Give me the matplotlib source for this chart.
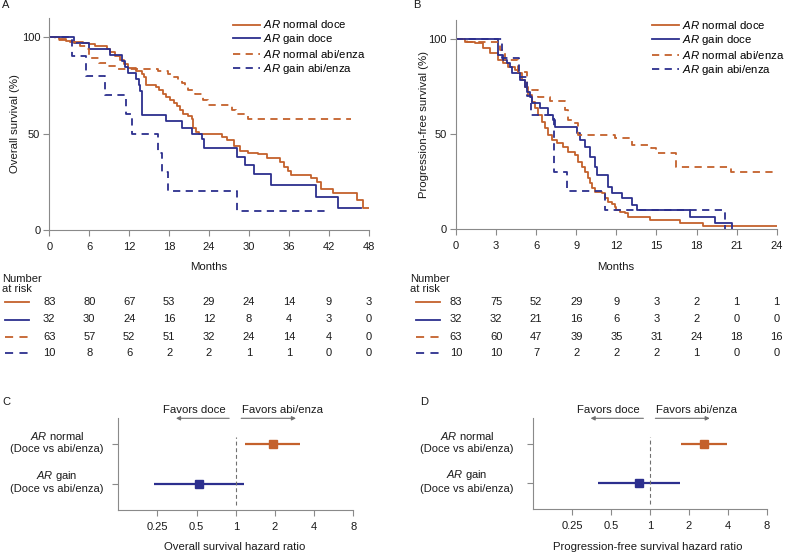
import matplotlib
matplotlib.use("Agg")
import matplotlib.pyplot as plt
import matplotlib.transforms as mtransforms
from matplotlib.lines import Line2D

plt.rcParams['font.family'] = ['Liberation Sans', 'DejaVu Sans']
plt.rcParams['mathtext.fontset'] = 'custom'
plt.rcParams['mathtext.it'] = 'Liberation Sans:italic'
plt.rcParams['mathtext.rm'] = 'Liberation Sans'
plt.rcParams['mathtext.bf'] = 'Liberation Sans:bold'

# ---------------- data ----------------
series_labels = [r"$\it{AR}$ normal doce", r"$\it{AR}$ gain doce",
                 r"$\it{AR}$ normal abi/enza", r"$\it{AR}$ gain abi/enza"]

# Panel A: overall survival (step points: months, %)
os_t_normal_doce = [0, 1.5, 2.5, 3.5, 5.0, 6.0, 6.9, 8.7, 9.1, 9.9, 10.6, 11.2, 11.9, 13.0, 13.9,
                    14.2, 14.6, 16.1, 16.5, 17.1, 17.6, 18.1, 18.7, 19.2, 19.6, 20.1, 20.9, 21.4,
                    21.6, 22.0, 22.5, 25.9, 26.7, 27.7, 28.7, 29.9, 31.4, 32.7, 34.7, 35.3, 35.8,
                    36.3, 39.4, 40.2, 40.9, 42.7, 46.2, 47.2, 48.0]
os_s_normal_doce = [100, 98.8, 98.0, 97.6, 97.0, 96.4, 95.2, 93.8, 92.0, 90.0, 88.2, 86.0, 83.9, 82.5,
                    81.0, 79.5, 75.0, 74.0, 72.5, 70.6, 69.0, 67.5, 66.0, 64.0, 62.0, 60.2, 59.0, 57.4,
                    52.8, 51.0, 49.5, 48.0, 46.4, 43.6, 41.0, 39.8, 39.3, 37.5, 35.0, 32.9, 30.8,
                    28.7, 26.8, 24.7, 21.5, 19.0, 15.4, 11.2, 11.2]
os_t_gain_doce = [0, 3.7, 6.0, 9.1, 11.0, 11.4, 11.9, 13.1, 13.5, 13.7, 14.0, 17.5, 20.0, 21.4,
                  23.0, 23.2, 28.2, 29.4, 30.7, 33.3, 40.1, 43.4, 46.9]
os_s_gain_doce = [100, 96.9, 93.8, 90.6, 87.5, 84.4, 81.3, 78.1, 75.0, 71.9, 59.4, 56.3, 53.1, 50.0,
                  46.9, 42.4, 38.0, 33.7, 29.0, 23.4, 17.3, 11.2, 11.2]
os_t_normal_abi = [0, 0.85, 2.6, 3.9, 4.6, 5.5, 6.0, 7.4, 8.8, 10.3, 16.3, 17.8, 18.6, 19.4, 19.9,
                   20.4, 20.9, 21.9, 23.1, 23.9, 27.5, 28.0, 29.9, 45.4]
os_s_normal_abi = [100, 98.4, 97.5, 96.8, 95.2, 93.6, 89.0, 86.4, 85.1, 83.3, 82.5, 80.8, 79.2, 77.5,
                   76.1, 74.4, 72.7, 70.6, 67.1, 64.9, 62.3, 60.2, 57.6, 57.6]
os_t_gain_abi = [0, 3.4, 5.5, 8.4, 11.5, 12.4, 16.3, 16.9, 17.9, 28.2, 41.4]
os_s_gain_abi = [100, 90, 80, 70, 60, 50, 40, 30, 20, 10, 10]

# Panel B: progression-free survival
pfs_t_normal_doce = [0, 0.67, 1.42, 2.05, 2.55, 3.17, 3.54, 3.92, 4.42, 4.67, 4.92, 5.16, 5.41, 5.66,
                     5.91, 6.16, 6.41, 6.66, 6.91, 7.16, 7.54, 8.04, 8.41, 8.91, 9.16, 9.41, 9.66,
                     9.91, 10.03, 10.15, 10.4, 10.9, 11.15, 11.4, 11.65, 11.9, 12.0, 12.28, 12.65,
                     12.9, 14.5, 16.8, 18.5, 24.0]
pfs_s_normal_doce = [100, 98.8, 97.9, 95.2, 92.6, 89.1, 87.3, 85.5, 83.8, 82.0, 78.5, 75.0, 70.6, 67.1,
                     63.5, 60.0, 56.5, 53.0, 49.5, 46.8, 45.1, 43.3, 40.7, 38.9, 35.4, 32.8, 30.1,
                     26.6, 23.9, 21.3, 19.5, 18.6, 16.0, 14.2, 13.3, 11.6, 9.8, 9.0, 8.1,
                     6.3, 4.6, 3.2, 1.2, 1.2]
pfs_t_gain_doce = [0, 3.17, 3.54, 3.79, 4.04, 4.17, 4.79, 5.16, 5.29, 5.54, 5.66, 6.29, 6.91, 7.29,
                   7.41, 9.03, 9.28, 9.66, 10.03, 10.4, 10.53, 11.4, 11.65, 12.4, 13.15, 13.52,
                   17.5, 19.4, 20.63]
pfs_s_gain_doce = [100, 91.7, 89.1, 87.3, 85.5, 82.0, 78.5, 75.0, 72.3, 69.7, 66.2, 63.5, 60.0, 57.4,
                   53.8, 50.5, 46.8, 43.3, 38.0, 32.7, 28.3, 22.2, 18.6, 16.0, 12.5, 9.9,
                   6.3, 2.8, 0]
pfs_t_normal_abi = [0, 0.8, 3.29, 3.67, 4.67, 5.29, 6.16, 7.04, 8.16, 8.41, 8.78, 9.16, 11.9, 13.15,
                    14.6, 15.0, 16.5, 20.6, 24.0]
pfs_s_normal_abi = [100, 98.7, 94.3, 89.1, 82.9, 73.2, 69.7, 67.6, 62.7, 57.4, 55.6, 49.4, 47.7, 44.2,
                    42.4, 39.8, 32.7, 30.1, 30.1]
pfs_t_gain_abi = [0, 3.45, 4.74, 5.29, 5.61, 7.35, 8.3, 11.15, 20.1]
pfs_s_gain_abi = [100, 90, 80, 70, 60, 30, 20, 10, 0]

# Number at risk
os_months = [0, 6, 12, 18, 24, 30, 36, 42, 48]
os_risk_normal_doce = [83, 80, 67, 53, 29, 24, 14, 9, 3]
os_risk_gain_doce = [32, 30, 24, 16, 12, 8, 4, 3, 0]
os_risk_normal_abi = [63, 57, 52, 51, 32, 24, 14, 4, 0]
os_risk_gain_abi = [10, 8, 6, 2, 2, 1, 1, 0, 0]
pfs_months = [0, 3, 6, 9, 12, 15, 18, 21, 24]
pfs_risk_normal_doce = [83, 75, 52, 29, 9, 3, 2, 1, 1]
pfs_risk_gain_doce = [32, 32, 21, 16, 6, 3, 2, 0, 0]
pfs_risk_normal_abi = [63, 60, 47, 39, 35, 31, 24, 18, 16]
pfs_risk_gain_abi = [10, 10, 7, 2, 2, 2, 1, 0, 0]

# Forest plots (hazard ratios)
forest_groups = [r"$\it{AR}$ normal" + "\n(Doce vs abi/enza)", r"$\it{AR}$ gain" + "\n(Doce vs abi/enza)"]
os_hr = [1.93, 0.524]
os_lo = [1.18, 0.235]
os_hi = [3.14, 1.166]
pfs_hr = [2.6, 0.826]
pfs_lo = [1.74, 0.396]
pfs_hi = [3.95, 1.71]
hr_ticks = [0.25, 0.5, 1, 2, 4, 8]
hr_ticklabels = ["0.25", "0.5", "1", "2", "4", "8"]

# ---------------- style ----------------
ORANGE = "#C4612C"
BLUE = "#2C2F8E"
GRAY = "#8a8a8a"
TXT = "#1a1a1a"
colors = [ORANGE, BLUE, ORANGE, BLUE]
dashed = [False, False, True, True]
FS = 8

W, H = 791, 552
fig = plt.figure(figsize=(W / 100, H / 100), dpi=100)


def fx(px):
    return px / W


def fy(py):
    return 1 - py / H


def style_axes(ax):
    for s in ("top", "right"):
        ax.spines[s].set_visible(False)
    for s in ("left", "bottom"):
        ax.spines[s].set_color(GRAY)
        ax.spines[s].set_linewidth(0.8)
    ax.tick_params(axis="both", color=GRAY, width=0.8, length=4, labelsize=FS, labelcolor=TXT)
    ax.tick_params(axis="x", pad=4.5)
    ax.tick_params(axis="y", pad=2.5)


def km_panel(ax, curves, xmax, xticks, legend_anchor):
    handles = []
    for (t, s), c, d, lab in zip(curves, colors, dashed, series_labels):
        ln, = ax.step(t, s, where="post", color=c, lw=1.3, label=lab)
        if d:
            ln.set_dashes((4, 3))
        handles.append(ln)
    ax.set_xlim(0, xmax)
    ax.set_ylim(0, 110)
    ax.set_xticks(xticks)
    ax.set_yticks([0, 50, 100])
    style_axes(ax)
    ax.legend(handles=handles, loc="upper left", bbox_to_anchor=legend_anchor,
              bbox_transform=fig.transFigure, frameon=False, fontsize=8.2,
              handlelength=2.4, handletextpad=0.25, labelspacing=0.17, borderpad=0,
              borderaxespad=0)
    return handles


# Panel A
axA = fig.add_axes([fx(49.3), fy(230), fx(368.7 - 49.3), (230 - 17.7) / H])
km_panel(axA,
         [(os_t_normal_doce, os_s_normal_doce), (os_t_gain_doce, os_s_gain_doce),
          (os_t_normal_abi, os_s_normal_abi), (os_t_gain_abi, os_s_gain_abi)],
         48, os_months, (fx(233), fy(18.5)))
# Panel B
axB = fig.add_axes([fx(456), fy(228.7), fx(776.7 - 456), (228.7 - 20.3) / H])
km_panel(axB,
         [(pfs_t_normal_doce, pfs_s_normal_doce), (pfs_t_gain_doce, pfs_s_gain_doce),
          (pfs_t_normal_abi, pfs_s_normal_abi), (pfs_t_gain_abi, pfs_s_gain_abi)],
         24, pfs_months, (fx(651.5), fy(19)))

fig.text(fx(15), fy(124), "Overall survival (%)", rotation=90, ha="center", va="center",
         fontsize=8.2, color=TXT)
fig.text(fx(424), fy(124), "Progression-free survival (%)", rotation=90, ha="center",
         va="center", fontsize=8.2, color=TXT)
fig.text(fx(209), fy(267), "Months", ha="center", va="center", fontsize=8.2, color=TXT)
fig.text(fx(616), fy(267), "Months", ha="center", va="center", fontsize=8.2, color=TXT)

# Panel letters
fig.text(fx(2), fy(5), "A", ha="left", va="center", fontsize=8, color=TXT)
fig.text(fx(413), fy(5), "B", ha="left", va="center", fontsize=8, color=TXT)
fig.text(fx(2), fy(402), "C", ha="left", va="center", fontsize=8, color=TXT)
fig.text(fx(420), fy(402), "D", ha="left", va="center", fontsize=8, color=TXT)

# Number-at-risk tables
row_y = [302, 319.5, 336.5, 353]


def risk_table(ax, months, rows, label_x, handle_x0, handle_x1):
    trans = mtransforms.blended_transform_factory(ax.transData, fig.transFigure)
    fig.text(fx(label_x), fy(284), "Number\nat risk", ha="left", va="center", fontsize=8,
             color=TXT, linespacing=1.1)
    for r, (vals, c, d) in enumerate(zip(rows, colors, dashed)):
        ln = Line2D([fx(handle_x0), fx(handle_x1)], [fy(row_y[r]), fy(row_y[r])],
                    transform=fig.transFigure, color=c, lw=1.3)
        if d:
            ln.set_dashes((4.5, 3.5))
        fig.add_artist(ln)
        for m, v in zip(months, vals):
            fig.text(m, fy(row_y[r]), str(v), transform=trans, ha="center", va="center",
                     fontsize=FS, color=TXT)


risk_table(axA, os_months, [os_risk_normal_doce, os_risk_gain_doce, os_risk_normal_abi,
                            os_risk_gain_abi], 2, 5, 29)
risk_table(axB, pfs_months, [pfs_risk_normal_doce, pfs_risk_gain_doce, pfs_risk_normal_abi,
                             pfs_risk_gain_abi], 410, 415.5, 440)


# Forest plots
def forest(ax, hr, lo, hi, label_cx):
    ypos = [2, 1]
    for y, h, l, u, c in zip(ypos, hr, lo, hi, [ORANGE, BLUE]):
        ax.errorbar([h], [y], xerr=[[h - l], [u - h]], fmt="s", color=c, ms=5.8,
                    elinewidth=1.6, capsize=0, mec=c, mfc=c)
    ax.set_xscale("log", base=2)
    ax.set_xlim(0.125, 8)
    ax.set_ylim(0.345, 2.655)
    ax.set_xticks(hr_ticks)
    ax.set_xticklabels(hr_ticklabels)
    ax.xaxis.set_minor_locator(matplotlib.ticker.NullLocator())
    ax.set_yticks(ypos)
    ax.set_yticklabels([])
    style_axes(ax)
    ax.axvline(1, ymin=0.055, ymax=0.80, color="#707070", lw=0.8, dashes=(3.5, 2.5))
    trans = mtransforms.blended_transform_factory(fig.transFigure, ax.transData)
    for y, lab in zip(ypos, forest_groups):
        fig.text(fx(label_cx), y + 0.06, lab, transform=trans, ha="center", va="center",
                 multialignment="center", fontsize=8, color=TXT, linespacing=1.2)
    # Favors annotations
    ax.annotate("", xy=(0.347, 1.0), xytext=(0.889, 1.0),
                xycoords=("data", "axes fraction"), textcoords=("data", "axes fraction"),
                arrowprops=dict(arrowstyle="-|>", color="#707070", lw=0.8, mutation_scale=6,
                                shrinkA=0, shrinkB=0), annotation_clip=False)
    ax.annotate("", xy=(2.9, 1.0), xytext=(1.1, 1.0),
                xycoords=("data", "axes fraction"), textcoords=("data", "axes fraction"),
                arrowprops=dict(arrowstyle="-|>", color="#707070", lw=0.8, mutation_scale=6,
                                shrinkA=0, shrinkB=0), annotation_clip=False)
    ax.text(0.48, 1.095, "Favors doce", transform=ax.get_xaxis_transform(), ha="center",
            va="center", fontsize=8.2, color=TXT, clip_on=False)
    ax.text(2.3, 1.095, "Favors abi/enza", transform=ax.get_xaxis_transform(), ha="center",
            va="center", fontsize=8.2, color=TXT, clip_on=False)


axC = fig.add_axes([fx(118.3), fy(510), fx(353.3 - 118.3), (510 - 418.3) / H])
forest(axC, os_hr, os_lo, os_hi, 57)
axD = fig.add_axes([fx(533.3), fy(509.3), fx(766.7 - 533.3), (509.3 - 418.3) / H])
forest(axD, pfs_hr, pfs_lo, pfs_hi, 467)
fig.text(fx(235), fy(547), "Overall survival hazard ratio", ha="center", va="center",
         fontsize=8.2, color=TXT)
fig.text(fx(648), fy(547), "Progression-free survival hazard ratio", ha="center", va="center",
         fontsize=8.2, color=TXT)

fig.savefig("out.png", dpi=100)
